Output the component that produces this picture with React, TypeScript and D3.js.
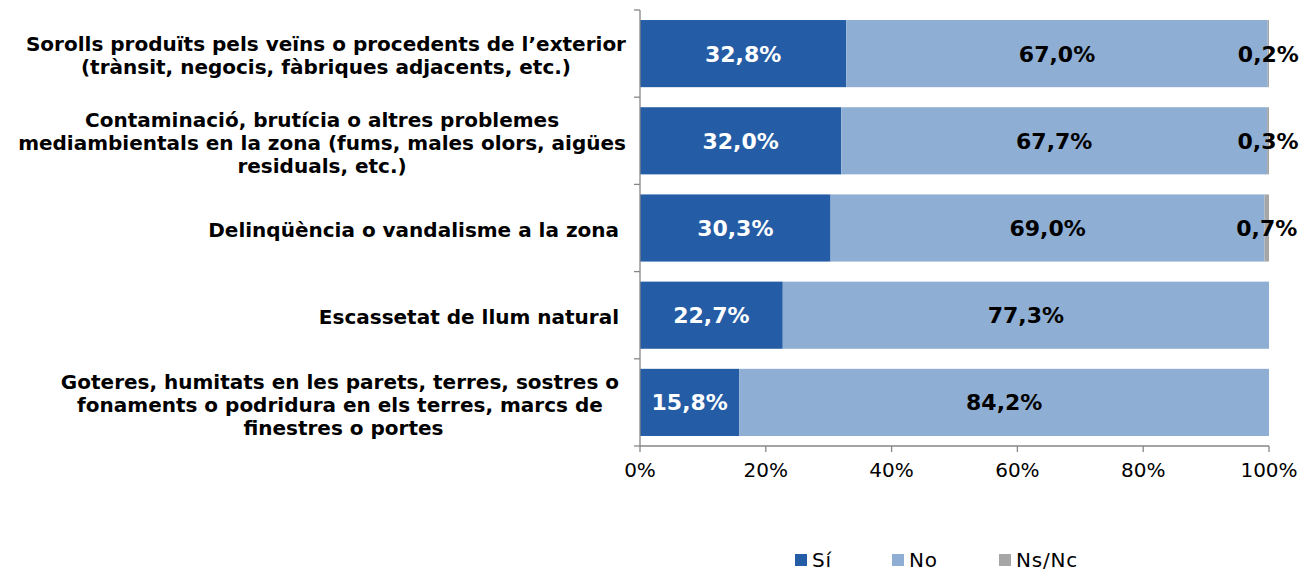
import React, { useEffect, useRef } from "react";
import * as d3 from "d3";

const categories: string[][] = [
  ["Sorolls produïts pels veïns o procedents de l’exterior", "(trànsit, negocis, fàbriques adjacents, etc.)"],
  ["Contaminació, brutícia o altres problemes", "mediambientals en la zona (fums, males olors, aigües", "residuals, etc.)"],
  ["Delinqüència o vandalisme a la zona "],
  ["Escassetat de llum natural "],
  ["Goteres, humitats en les parets, terres, sostres o ", "fonaments o podridura en els terres, marcs de ", "finestres o portes"],
];
const seriesNames = ["Sí", "No", "Ns/Nc"];
const siValues = [32.8, 32.0, 30.3, 22.7, 15.8];
const noValues = [67.0, 67.7, 69.0, 77.3, 84.2];
const nsValues = [0.2, 0.3, 0.7, 0, 0];
const xTicks = [0, 20, 40, 60, 80, 100];
const colors = ["#245DA6", "#8FAED3", "#A6A6A6"];
const labelColors = ["#ffffff", "#000000", "#000000"];

export default function App() {
  const ref = useRef<SVGSVGElement>(null);
  useEffect(() => {
    const svg = d3.select(ref.current);
    svg.selectAll("*").remove();
    const x = d3.scaleLinear().domain([0, 100]).range([640, 1269]);
    const idx = categories.map((_, i) => String(i));
    const y = d3.scaleBand().domain(idx).range([10, 446]).paddingInner(0.23).paddingOuter(0.115);
    const font = "Verdana, 'DejaVu Sans', sans-serif";
    const series = [siValues, noValues, nsValues];

    const g = svg.append("g");
    categories.forEach((_, i) => {
      let cum = 0;
      series.forEach((vals, s) => {
        const v = vals[i];
        const x0 = x(cum), x1 = x(cum + v);
        if (v > 0) {
          g.append("rect")
            .attr("x", x0).attr("y", y(String(i))!)
            .attr("width", x1 - x0).attr("height", y.bandwidth())
            .attr("fill", colors[s]);
          g.append("text")
            .attr("x", (x0 + x1) / 2)
            .attr("y", y(String(i))! + y.bandwidth() / 2)
            .attr("dy", "0.36em")
            .attr("text-anchor", "middle")
            .attr("font-family", font).attr("font-weight", "bold").attr("font-size", 22)
            .attr("fill", labelColors[s])
            .text(v.toFixed(1).replace(".", ",") + "%");
        }
        cum += v;
      });
    });

    // axes
    const axisColor = "#868686";
    svg.append("line").attr("x1", 640).attr("x2", 640).attr("y1", 10).attr("y2", 446)
      .attr("stroke", axisColor).attr("stroke-width", 1.3);
    const bounds = [10, ...idx.map((d) => y(d)! + y.bandwidth() + (y.step() - y.bandwidth()) / 2)];
    bounds[bounds.length - 1] = 446;
    bounds.forEach((b) => {
      svg.append("line").attr("x1", 634).attr("x2", 640).attr("y1", b).attr("y2", b)
        .attr("stroke", axisColor).attr("stroke-width", 1.3);
    });
    svg.append("line").attr("x1", 640).attr("x2", 1269).attr("y1", 446).attr("y2", 446)
      .attr("stroke", axisColor).attr("stroke-width", 1.3);
    xTicks.forEach((t) => {
      svg.append("line").attr("x1", x(t)).attr("x2", x(t)).attr("y1", 446).attr("y2", 452)
        .attr("stroke", axisColor).attr("stroke-width", 1.3);
      svg.append("text").attr("x", x(t)).attr("y", 477).attr("text-anchor", "middle")
        .attr("font-family", font).attr("font-size", 20).attr("fill", "#000")
        .text(t + "%");
    });

    // category labels
    const right = 626;
    const lh = 23;
    categories.forEach((lines, i) => {
      const cy = y(String(i))! + y.bandwidth() / 2 + 2;
      const texts = lines.map((ln, j) =>
        svg.append("text")
          .attr("y", cy + (j - (lines.length - 1) / 2) * lh)
          .attr("dy", "0.36em")
          .attr("text-anchor", "middle")
          .attr("font-family", font).attr("font-weight", "bold").attr("font-size", 20)
          .attr("fill", "#000")
          .style("white-space", "pre")
          .text(ln)
      );
      const widths = texts.map((t) => (t.node() as SVGTextElement).getComputedTextLength());
      const maxW = d3.max(widths)!;
      texts.forEach((t) => t.attr("x", right - maxW / 2));
    });

    // legend
    const legendX = [795, 892, 999];
    seriesNames.forEach((n, s) => {
      svg.append("rect").attr("x", legendX[s]).attr("y", 554).attr("width", 12).attr("height", 12)
        .attr("fill", colors[s]);
      svg.append("text").attr("x", legendX[s] + 17).attr("y", 560).attr("dy", "0.36em")
        .attr("font-family", font).attr("font-size", 20).attr("letter-spacing", 0.8)
        .attr("fill", "#000").text(n);
    });
  }, []);
  return (
    <svg ref={ref} width={1303} height={573} style={{ display: "block", position: "absolute", left: 0, top: 0 }} />
  );
}
